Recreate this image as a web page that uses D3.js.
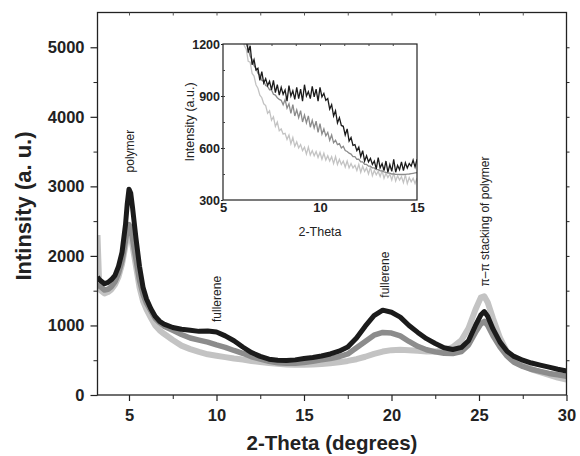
<!DOCTYPE html>
<meta charset="utf-8">
<script src="https://d3js.org/d3.v7.min.js"></script>
<style>
  body { margin: 0; background: #fff; }
  text { font-family: "Liberation Sans", Arial, sans-serif; }
</style>
<div id="chart"></div>
<script>
  // main scan: 2-theta (deg) and intensity of the three films
  const theta = [3.2, 3.3, 3.4, 3.6, 3.8, 4.0, 4.2, 4.4, 4.6, 4.8, 4.9, 5.0, 5.1, 5.2, 5.4, 5.6, 5.8, 6.0, 6.25, 6.5,
    6.75, 7, 7.5, 8, 8.5, 9, 9.5, 10, 10.5, 11, 11.5, 12, 12.5, 13, 13.5, 14, 14.5, 15, 15.5, 16,
    16.5, 17, 17.5, 18, 18.5, 19, 19.5, 20, 20.5, 21, 21.5, 22, 22.5, 23, 23.5, 24, 24.4, 24.8, 25.1, 25.3,
    25.5, 25.8, 26.2, 26.6, 27, 27.5, 28, 28.5, 29, 29.5, 30];
  const blackVals = [1700, 1660, 1640, 1600, 1620, 1660, 1720, 1850, 2050, 2450, 2750, 2960, 2900, 2700, 2250, 1850, 1550, 1380, 1240, 1130,
    1060, 1020, 970, 945, 930, 915, 920, 905, 850, 780, 690, 610, 555, 515, 500, 495, 505, 525, 540, 560,
    590, 630, 690, 820, 990, 1140, 1220, 1190, 1120, 1000, 900, 810, 740, 680, 655, 685, 780, 1000, 1150, 1200,
    1130, 950, 760, 630, 555, 500, 460, 430, 400, 370, 345];
  const darkVals = [1600, 1570, 1550, 1510, 1520, 1560, 1630, 1750, 1930, 2220, 2380, 2450, 2400, 2250, 1950, 1650, 1450, 1320, 1210, 1100,
    1040, 990, 930, 870, 820, 790, 760, 720, 685, 640, 600, 550, 515, 485, 465, 455, 458, 468, 485, 505,
    525, 550, 590, 680, 770, 860, 900, 890, 850, 770, 700, 650, 620, 600, 595, 625, 720, 900, 1020, 1060,
    1000, 850, 690, 560, 470, 410, 370, 340, 310, 290, 270];
  const lightVals = [2300, 1560, 1500, 1460, 1480, 1520, 1590, 1700, 1880, 2150, 2300, 2350, 2300, 2150, 1850, 1550, 1350, 1230, 1110, 1000,
    930, 880, 790, 710, 660, 620, 585, 565, 545, 525, 510, 490, 475, 460, 450, 440, 435, 435, 438, 445,
    455, 470, 490, 515, 550, 590, 625, 645, 650, 645, 635, 625, 625, 640, 690, 790, 960, 1230, 1400, 1420,
    1330, 1100, 820, 620, 500, 430, 370, 330, 290, 250, 220];

  // inset: 6.0 .. 15.0 deg, every 0.1 deg
  const insetTheta = d3.range(60, 151).map(d => d / 10);
  const insetBlack = [1310, 1240, 1250, 1150, 1190, 1080, 1110, 1050, 1060, 990,
    1040, 975, 1000, 960, 985, 935, 990, 920, 965, 905,
    950, 910, 935, 870, 960, 900, 930, 880, 950, 885,
    940, 870, 965, 900, 925, 885, 955, 895, 940, 870,
    950, 895, 915, 875, 885, 825, 850, 785, 815, 745,
    775, 730, 725, 675, 710, 640, 660, 615, 620, 585,
    605, 550, 585, 525, 555, 520, 540, 505, 525, 480,
    545, 485, 510, 470, 525, 460, 505, 465, 535, 460,
    500, 475, 520, 470, 515, 485, 510, 495, 530, 490, 535];
  const insetDark = [1290, 1240, 1200, 1170, 1130, 1110, 1075, 1060, 1030, 1020,
    990, 985, 960, 955, 935, 935, 910, 905, 890, 880,
    875, 850, 880, 830, 855, 800, 850, 785, 820, 775,
    815, 750, 790, 745, 785, 720, 760, 715, 755, 690,
    740, 680, 710, 670, 690, 645, 675, 630, 645, 620,
    625, 600, 610, 585, 580, 570, 565, 550, 550, 535,
    535, 520, 520, 505, 505, 495, 495, 485, 485, 475,
    475, 468, 468, 462, 460, 455, 455, 450, 450, 448,
    448, 447, 447, 447, 448, 449, 450, 452, 454, 456, 458];
  const insetLight = [1250, 1190, 1170, 1100, 1095, 1030, 1015, 965, 945, 905,
    890, 855, 845, 800, 815, 760, 780, 725, 750, 700,
    710, 680, 685, 650, 675, 625, 660, 610, 635, 600,
    620, 585, 605, 565, 605, 560, 585, 555, 580, 545,
    575, 535, 570, 530, 555, 525, 550, 510, 550, 505,
    535, 505, 525, 490, 525, 485, 510, 485, 500, 470,
    505, 460, 495, 465, 485, 450, 490, 440, 470, 445,
    465, 435, 470, 425, 455, 430, 450, 415, 455, 410,
    440, 415, 435, 400, 445, 395, 430, 405, 425, 395, 425];

  const yTicks = [0, 1000, 2000, 3000, 4000, 5000];
  const xTicks = [5, 10, 15, 20, 25, 30];
  const insetYTicks = [300, 600, 900, 1200];
  const insetXTicks = [5, 10, 15];

  const colors = { light: "#c3c3c3", dark: "#8c8c8c", black: "#1b1b1b" };

  const W = 580, H = 456;
  const margin = { top: 12.5, right: 13.5, bottom: 61, left: 97.5 };
  const width = W - margin.left - margin.right,
    height = H - margin.top - margin.bottom;

  const svg = d3.select("#chart")
    .append("svg")
    .attr("width", W)
    .attr("height", H);

  const g = svg.append("g")
    .attr("transform", `translate(${margin.left}, ${margin.top})`);

  const x = d3.scaleLinear().domain([3.2, 30]).range([0, width]);
  const y = d3.scaleLinear().domain([0, 5500]).range([height, 0]);

  g.append("clipPath").attr("id", "mainclip")
    .append("rect").attr("width", width).attr("height", height);

  const series = [
    { vals: lightVals, color: colors.light, w: 6 },
    { vals: darkVals, color: colors.dark, w: 5.5 },
    { vals: blackVals, color: colors.black, w: 5 }
  ];

  const line = d3.line()
    .x(d => x(d[0]))
    .y(d => y(d[1]));

  series.forEach(s => {
    g.append("path")
      .datum(theta.map((t, i) => [t, s.vals[i]]))
      .attr("clip-path", "url(#mainclip)")
      .attr("fill", "none")
      .attr("stroke", s.color)
      .attr("stroke-width", s.w)
      .attr("stroke-linejoin", "round")
      .attr("d", line);
  });

  // frame
  g.append("rect")
    .attr("width", width).attr("height", height)
    .attr("fill", "none").attr("stroke", "#222").attr("stroke-width", 1.3);

  // y axis
  const yAxis = g.append("g")
    .call(d3.axisLeft(y).tickValues(yTicks).tickSize(7).tickPadding(6).tickFormat(d3.format("d")));
  yAxis.select(".domain").remove();
  yAxis.selectAll("text")
    .style("font-size", "16.5px").style("font-weight", "bold").attr("fill", "#222");
  yAxis.selectAll("line").attr("stroke", "#222").attr("stroke-width", 1.2);
  g.append("g")
    .call(d3.axisLeft(y).tickValues(d3.range(500, 5500, 1000)).tickSize(4).tickFormat(""))
    .call(a => a.select(".domain").remove())
    .selectAll("line").attr("stroke", "#222");
  g.append("g")
    .attr("transform", `translate(${width}, 0)`)
    .call(d3.axisRight(y).tickValues(d3.range(500, 5500, 500)).tickSize(3).tickFormat(""))
    .call(a => a.select(".domain").remove())
    .selectAll("line").attr("stroke", "#222");

  // x axis
  const xAxis = g.append("g")
    .attr("transform", `translate(0, ${height})`)
    .call(d3.axisBottom(x).tickValues(xTicks).tickSize(6).tickPadding(8));
  xAxis.select(".domain").remove();
  xAxis.selectAll("text")
    .style("font-size", "16.5px").style("font-weight", "bold").attr("fill", "#222");
  xAxis.selectAll("line").attr("stroke", "#222").attr("stroke-width", 1.2);
  g.append("g")
    .attr("transform", `translate(0, ${height})`)
    .call(d3.axisBottom(x).tickValues(d3.range(7.5, 30, 5)).tickSize(4).tickFormat(""))
    .call(a => a.select(".domain").remove())
    .selectAll("line").attr("stroke", "#222");
  g.append("g")
    .call(d3.axisTop(x).tickValues(d3.range(5, 30, 2.5)).tickSize(-3).tickFormat(""))
    .call(a => a.select(".domain").remove())
    .selectAll("line").attr("stroke", "#555");

  // axis titles
  svg.append("text")
    .attr("x", margin.left + x(16.6))
    .attr("y", 450)
    .attr("text-anchor", "middle")
    .style("font-size", "20.5px").style("font-weight", "bold").attr("fill", "#222")
    .text("2-Theta (degrees)");
  svg.append("text")
    .attr("transform", "translate(31, 206) rotate(-90)")
    .attr("text-anchor", "middle")
    .style("font-size", "22px").style("font-weight", "bold").attr("fill", "#222")
    .text("Intinsity (a. u.)");

  // peak annotations
  const notes = [
    { t: 5.05, v: 3200, label: "polymer" },
    { t: 10.05, v: 1050, label: "fullerene" },
    { t: 19.6, v: 1400, label: "fullerene" },
    { t: 25.35, v: 1560, label: "\u03c0\u2013\u03c0 stacking of polymer" }
  ];
  notes.forEach(n => {
    g.append("text")
      .attr("transform", `translate(${x(n.t) + 4}, ${y(n.v)}) rotate(-90)`)
      .style("font-size", "12px").attr("fill", "#222")
      .text(n.label);
  });

  // inset
  const ins = { left: 223, top: 44, w: 194, h: 156 };
  const xi = d3.scaleLinear().domain([5, 15]).range([0, ins.w]);
  const yi = d3.scaleLinear().domain([300, 1200]).range([ins.h, 0]);
  const gi = svg.append("g").attr("transform", `translate(${ins.left}, ${ins.top})`);

  gi.append("rect").attr("width", ins.w).attr("height", ins.h).attr("fill", "#fff");
  gi.append("clipPath").attr("id", "insclip")
    .append("rect").attr("width", ins.w).attr("height", ins.h);

  const lineI = d3.line().x(d => xi(d[0])).y(d => yi(d[1]));
  [
    { vals: insetLight, color: colors.light },
    { vals: insetDark, color: colors.dark },
    { vals: insetBlack, color: colors.black }
  ].forEach(s => {
    gi.append("path")
      .datum(insetTheta.map((t, i) => [t, s.vals[i]]))
      .attr("clip-path", "url(#insclip)")
      .attr("fill", "none")
      .attr("stroke", s.color)
      .attr("stroke-width", 1.3)
      .attr("d", lineI);
  });

  gi.append("rect")
    .attr("width", ins.w).attr("height", ins.h)
    .attr("fill", "none").attr("stroke", "#222").attr("stroke-width", 1.2);

  const yiAxis = gi.append("g")
    .call(d3.axisLeft(yi).tickValues(insetYTicks).tickSize(2).tickPadding(1).tickFormat(d3.format("d")));
  yiAxis.select(".domain").remove();
  yiAxis.selectAll("text").style("font-size", "12.5px").style("font-weight", "bold").attr("fill", "#222");
  yiAxis.selectAll("line").attr("stroke", "#222");
  gi.append("g")
    .call(d3.axisRight(yi).tickValues(d3.range(450, 1200, 150)).tickSize(2).tickFormat(""))
    .call(a => a.select(".domain").remove())
    .selectAll("line").attr("stroke", "#444");

  const xiAxis = gi.append("g")
    .attr("transform", `translate(0, ${ins.h})`)
    .call(d3.axisBottom(xi).tickValues(insetXTicks).tickSize(0).tickPadding(3));
  xiAxis.select(".domain").remove();
  xiAxis.selectAll("text").style("font-size", "13px").style("font-weight", "bold").attr("fill", "#222");
  gi.append("g")
    .call(d3.axisBottom(xi).tickValues(d3.range(6.25, 15, 1.25)).tickSize(2).tickFormat(""))
    .call(a => a.select(".domain").remove())
    .selectAll("line").attr("stroke", "#444");

  gi.append("text")
    .attr("x", ins.w / 2).attr("y", ins.h + 36)
    .attr("text-anchor", "middle")
    .style("font-size", "12.5px").attr("fill", "#222")
    .text("2-Theta");
  gi.append("text")
    .attr("transform", `translate(-29, ${ins.h / 2}) rotate(-90)`)
    .attr("text-anchor", "middle")
    .style("font-size", "12.5px").attr("fill", "#222")
    .text("Intensity (a.u.)");
</script>
